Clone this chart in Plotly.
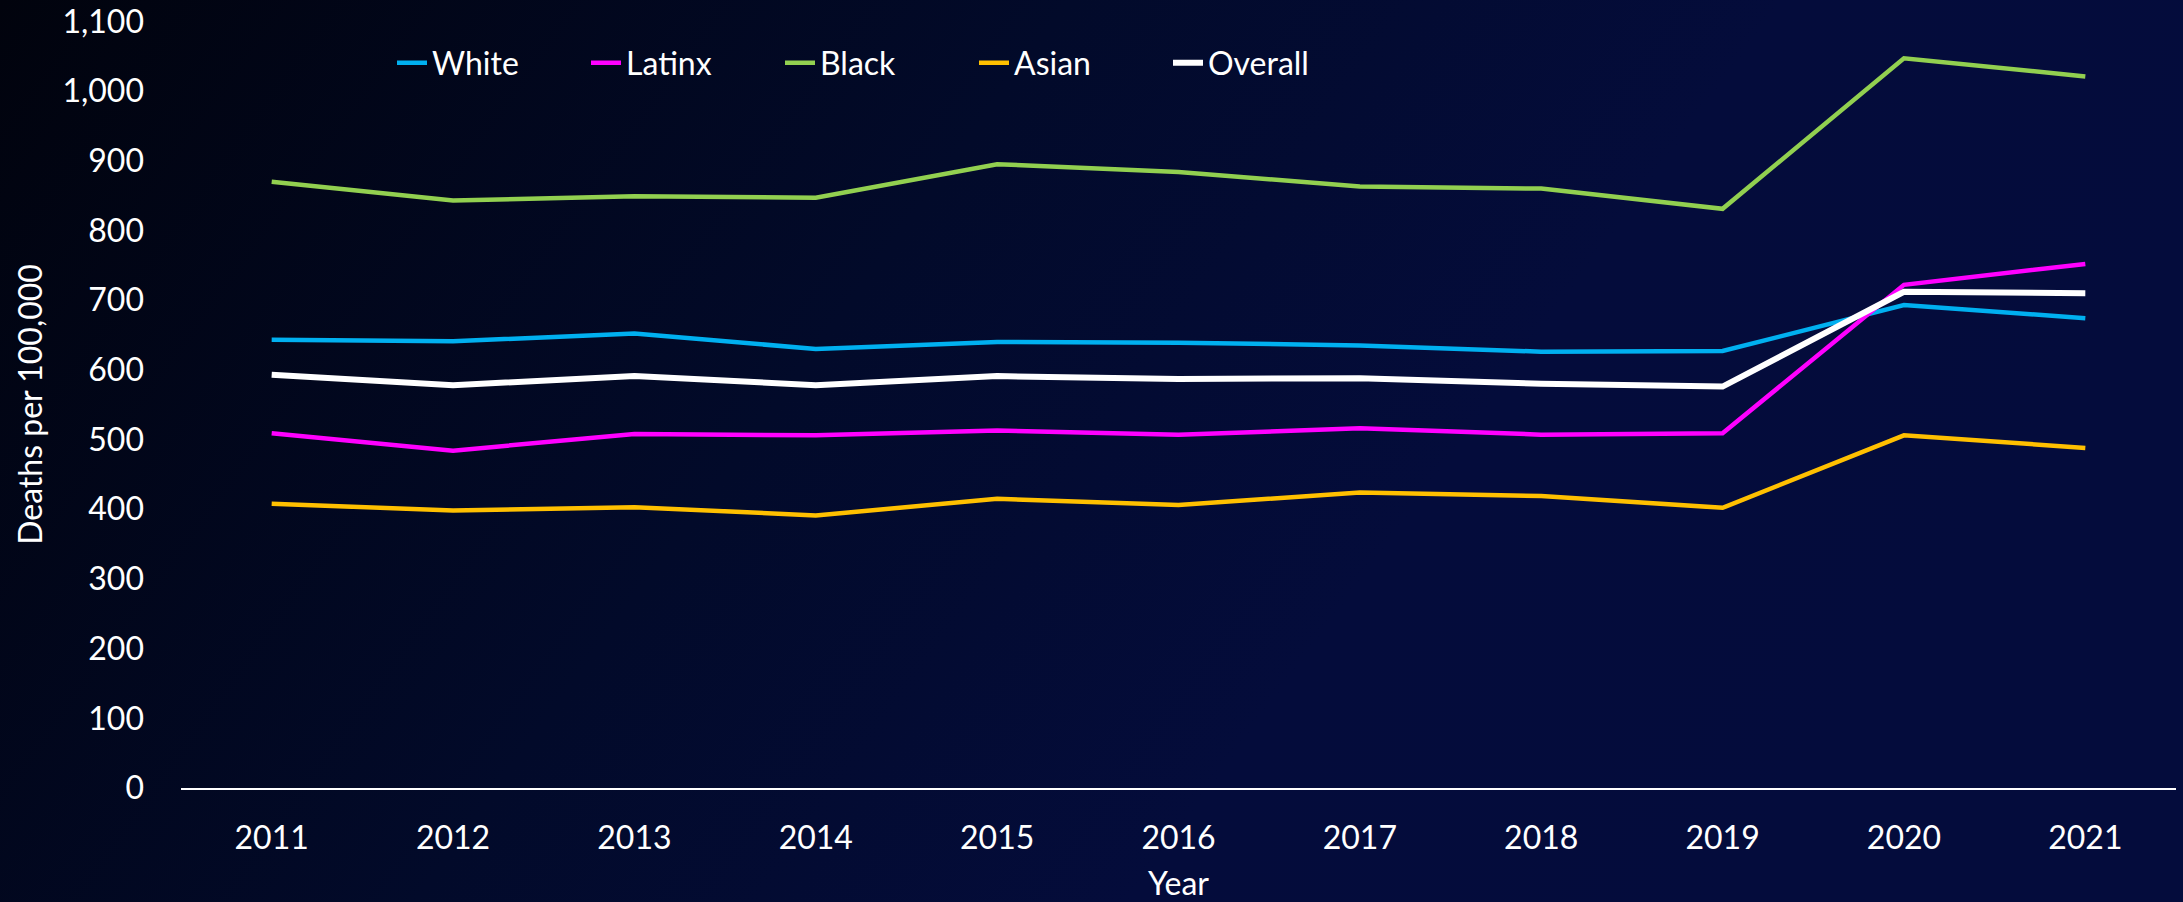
import base64
import plotly.graph_objects as go

# ---- data ----
years = [2011, 2012, 2013, 2014, 2015, 2016, 2017, 2018, 2019, 2020, 2021]
white = [643, 641, 652, 630, 640, 639, 635, 626, 627, 693, 674]
latinx = [509, 484, 508, 506, 513, 507, 516, 507, 509, 722, 752]
black = [870, 843, 849, 847, 895, 884, 863, 860, 831, 1047, 1021]
asian = [408, 398, 403, 391, 415, 406, 424, 419, 402, 506, 488]
overall = [593, 578, 591, 578, 591, 587, 588, 580, 576, 712, 710]

series_names = ["White", "Latinx", "Black", "Asian", "Overall"]
series_values = [white, latinx, black, asian, overall]
series_colors = ["#00B0F0", "#FF00FF", "#92D050", "#FFC000", "#FFFFFF"]
series_widths = [4.5, 4.5, 4.5, 4.5, 6]

y_ticks = list(range(0, 1101, 100))

# ---- figure geometry ----
W, H = 2183, 902
ML, MR, MT, MB = 181, 7, 21, 114
PW, PH = W - ML - MR, H - MT - MB

FONT = "Lato, 'Open Sans', sans-serif"

fig = go.Figure()
for name, vals, col, lw in zip(series_names, series_values, series_colors, series_widths):
    fig.add_trace(go.Scatter(
        x=[str(y) for y in years], y=vals, name=name, mode="lines",
        line=dict(color=col, width=lw),
    ))

svg = (
    '<svg xmlns="http://www.w3.org/2000/svg" width="2183" height="902" '
    'viewBox="0 0 2183 902" preserveAspectRatio="none">'
    '<defs><linearGradient id="g" x1="0" y1="0" x2="1" y2="0.3">'
    '<stop offset="0" stop-color="#01030D"/>'
    '<stop offset="0.45" stop-color="#020A2A"/>'
    '<stop offset="0.75" stop-color="#040C3B"/>'
    '<stop offset="1" stop-color="#040C3C"/>'
    '</linearGradient></defs>'
    '<rect width="2183" height="902" fill="url(#g)"/></svg>'
)
src = "data:image/svg+xml;base64," + base64.b64encode(svg.encode()).decode()

YMAX = 1100.5

fig.update_layout(
    width=W, height=H, autosize=False,
    margin=dict(l=ML, r=MR, t=MT, b=MB, pad=0, autoexpand=False),
    paper_bgcolor="#02061F",
    plot_bgcolor="rgba(0,0,0,0)",
    font=dict(family=FONT, size=32, color="#FFFFFF"),
    images=[dict(
        source=src, xref="paper", yref="paper",
        x=-ML / PW, y=1 + MT / PH, sizex=W / PW, sizey=H / PH,
        xanchor="left", yanchor="top", sizing="stretch", layer="below",
    )],
    showlegend=True,
    legend=dict(
        orientation="h", xref="paper", yref="paper",
        x=(392 - ML) / PW, xanchor="left",
        y=(H - MB - 63) / PH, yanchor="middle",
        bgcolor="rgba(0,0,0,0)", font=dict(family=FONT, size=32, color="#FFFFFF"),
        itemwidth=30, entrywidth=149, entrywidthmode="pixels",
    ),
    xaxis=dict(
        type="category", range=[-0.5, 10.5], automargin=False,
        showgrid=False, zeroline=False,
        showline=True, linecolor="#FFFFFF", linewidth=2,
        ticks="", ticklabelstandoff=21,
        tickfont=dict(family=FONT, size=32, color="#FFFFFF"),
        title=dict(text="Year", font=dict(family=FONT, size=32, color="#FFFFFF"), standoff=20),
    ),
    yaxis=dict(
        range=[0, YMAX], tickvals=y_ticks, tickformat=",", automargin=False,
        showgrid=False, zeroline=False, showline=False,
        ticks="", ticklabelstandoff=36, ticklabeloverflow="allow",
        tickfont=dict(family=FONT, size=32, color="#FFFFFF"),
        title=dict(text="Deaths per 100,000", font=dict(family=FONT, size=32, color="#FFFFFF"), standoff=10),
    ),
)

fig.write_html(
    "out.html",
    config={"displayModeBar": False},
    post_script="document.body.style.margin='0';document.body.style.overflow='hidden';",
)
